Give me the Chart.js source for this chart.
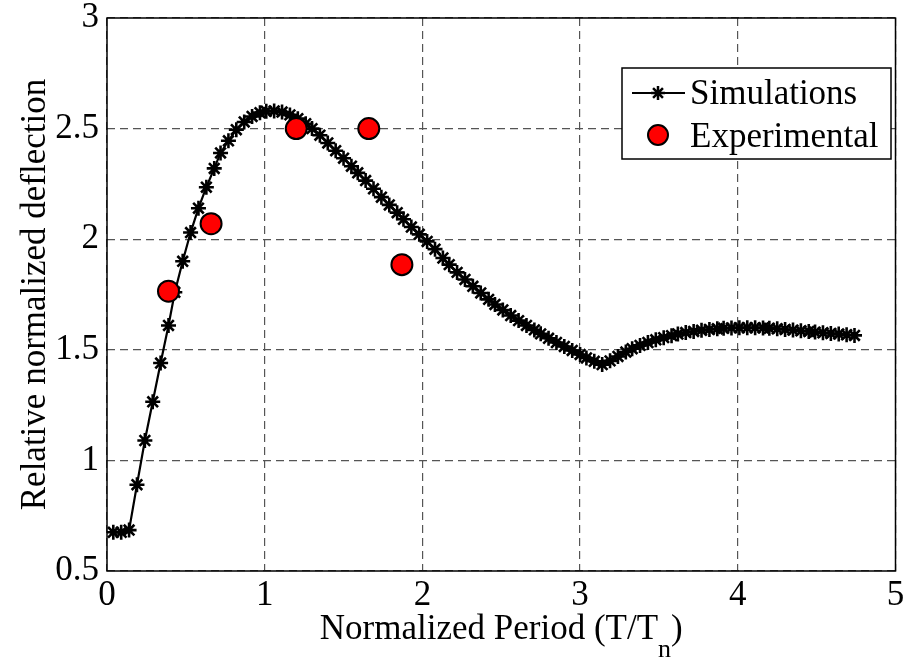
<!DOCTYPE html>
<html>
<head>
<meta charset="utf-8">
<script src="https://cdn.jsdelivr.net/npm/chart.js@4"></script>
<style>
	body { margin: 0; background: #fff; }
	#box { width: 908px; height: 662px; }
</style>
</head>
<body>
<div id="box"><canvas id="my_chart" width="908" height="662"></canvas></div>
<script>
// Simulations (T/Tn, relative normalized deflection)
const simX = [0.04, 0.09, 0.14, 0.19, 0.24, 0.29, 0.34, 0.39, 0.43, 0.48,
	0.53, 0.58, 0.63, 0.68, 0.72, 0.77, 0.82, 0.87, 0.92, 0.97,
	1.01, 1.06, 1.11, 1.16, 1.21, 1.26, 1.30, 1.35, 1.40, 1.45,
	1.50, 1.55, 1.59, 1.64, 1.69, 1.74, 1.79, 1.84, 1.88, 1.93,
	1.98, 2.03, 2.08, 2.13, 2.17, 2.22, 2.27, 2.32, 2.37, 2.42,
	2.46, 2.51, 2.56, 2.61, 2.66, 2.71, 2.75, 2.80, 2.85, 2.90,
	2.95, 3.00, 3.04, 3.09, 3.14, 3.19, 3.24, 3.29, 3.33, 3.38,
	3.43, 3.48, 3.53, 3.58, 3.62, 3.67, 3.72, 3.77, 3.82, 3.87,
	3.91, 3.96, 4.01, 4.06, 4.11, 4.16, 4.20, 4.25, 4.30, 4.35,
	4.40, 4.45, 4.49, 4.54, 4.59, 4.64, 4.69, 4.74]
const simY = [0.675, 0.675, 0.685, 0.89, 1.09, 1.265, 1.44, 1.61, 1.76, 1.90,
	2.03, 2.14, 2.235, 2.32, 2.39, 2.445, 2.495, 2.53, 2.555, 2.572,
	2.578, 2.58, 2.575, 2.562, 2.545, 2.522, 2.50, 2.47, 2.435, 2.40,
	2.366, 2.33, 2.30, 2.265, 2.228, 2.19, 2.155, 2.12, 2.09, 2.055,
	2.022, 1.99, 1.955, 1.915, 1.885, 1.85, 1.818, 1.787, 1.757, 1.728,
	1.705, 1.68, 1.655, 1.632, 1.61, 1.59, 1.572, 1.552, 1.533, 1.515,
	1.497, 1.479, 1.463, 1.448, 1.433, 1.45, 1.47, 1.49, 1.505, 1.52,
	1.533, 1.545, 1.555, 1.564, 1.571, 1.578, 1.583, 1.588, 1.592, 1.595,
	1.597, 1.599, 1.60, 1.60, 1.60, 1.599, 1.597, 1.595, 1.592, 1.589,
	1.586, 1.583, 1.58, 1.577, 1.574, 1.571, 1.568, 1.565]

// Experimental points
const expX = [0.39, 0.66, 1.20, 1.66, 1.87]
const expY = [1.765, 2.07, 2.50, 2.50, 1.885]

const seriesNames = ['Simulations', 'Experimental']
const xTitle = ['Normalized Period (T/T', 'n', ')']
const yTitle = 'Relative normalized deflection'

const FONT = "'Liberation Serif', 'Times New Roman', serif"

function toPoints(xs, ys) {
	return xs.map((x, i) => ({x: x, y: ys[i]}))
}

// Box, axis titles and legend, drawn like the MATLAB figure
const frame = {
	id: 'frame',
	afterDraw(chart) {
		const ctx = chart.ctx
		const a = chart.chartArea
		ctx.save()

		// Plot box
		ctx.strokeStyle = '#000'
		ctx.lineWidth = 1.5
		ctx.setLineDash([])
		ctx.strokeRect(a.left, a.top, a.right - a.left, a.bottom - a.top)

		ctx.fillStyle = '#000'

		// X title with subscript
		const big = '35px ' + FONT
		const small = '26px ' + FONT
		ctx.font = big
		const w1 = ctx.measureText(xTitle[0]).width
		const w3 = ctx.measureText(xTitle[2]).width
		ctx.font = small
		const w2 = ctx.measureText(xTitle[1]).width
		let x = (a.left + a.right) / 2 - (w1 + w2 + w3) / 2
		ctx.textAlign = 'left'
		ctx.textBaseline = 'alphabetic'
		ctx.font = big
		ctx.fillText(xTitle[0], x, 639)
		x += w1
		ctx.font = small
		ctx.fillText(xTitle[1], x, 657)
		x += w2
		ctx.font = big
		ctx.fillText(xTitle[2], x, 639)

		// Y title
		ctx.save()
		ctx.translate(36, (a.top + a.bottom) / 2)
		ctx.rotate(-Math.PI / 2)
		ctx.textAlign = 'center'
		ctx.textBaseline = 'middle'
		ctx.font = big
		ctx.fillText(yTitle, 0, 0)
		ctx.restore()

		// Legend
		ctx.fillStyle = '#fff'
		ctx.fillRect(622, 68, 269, 91)
		ctx.strokeStyle = '#000'
		ctx.lineWidth = 1.5
		ctx.strokeRect(622, 68, 269, 91)

		ctx.lineWidth = 2
		ctx.beginPath()
		ctx.moveTo(632, 93)
		ctx.lineTo(685, 93)
		ctx.stroke()
		// asterisk marker
		ctx.lineWidth = 2.5
		ctx.beginPath()
		for (let k = 0; k < 4; k++) {
			const ang = k * Math.PI / 4
			ctx.moveTo(658 - 7 * Math.cos(ang), 93 - 7 * Math.sin(ang))
			ctx.lineTo(658 + 7 * Math.cos(ang), 93 + 7 * Math.sin(ang))
		}
		ctx.stroke()

		ctx.lineWidth = 2
		ctx.beginPath()
		ctx.arc(658, 135, 10, 0, Math.PI * 2)
		ctx.fillStyle = '#ff0000'
		ctx.fill()
		ctx.stroke()

		ctx.fillStyle = '#000'
		ctx.font = big
		ctx.textAlign = 'left'
		ctx.textBaseline = 'alphabetic'
		ctx.fillText(seriesNames[0], 690, 104)
		ctx.fillText(seriesNames[1], 690, 147)

		ctx.restore()
	}
}

const tickFont = {family: FONT, size: 35}
const plainTick = v => String(Number(v.toFixed(2)))

const ctx = document.getElementById('my_chart')
const chart = new Chart(ctx, {
	type: 'scatter',
	data: {
		datasets: [{
			label: seriesNames[1],
			data: toPoints(expX, expY),
			pointStyle: 'circle',
			pointRadius: 10.5,
			pointBackgroundColor: '#ff0000',
			pointBorderColor: '#000',
			pointBorderWidth: 2,
			showLine: false,
			order: 0
		}, {
			label: seriesNames[0],
			data: toPoints(simX, simY),
			showLine: true,
			borderColor: '#000',
			borderWidth: 2.2,
			pointStyle: 'star',
			pointRadius: 7.5,
			pointBorderColor: '#000',
			pointBorderWidth: 2.6,
			pointBackgroundColor: '#000',
			tension: 0,
			order: 1
		}]
	},
	options: {
		responsive: false,
		animation: false,
		layout: {padding: {top: 18, right: 10, left: 0, bottom: 0}},
		plugins: {
			legend: {display: false},
			tooltip: {enabled: false}
		},
		scales: {
			x: {
				type: 'linear',
				min: 0,
				max: 5,
				ticks: {stepSize: 1, font: tickFont, color: '#000', padding: 4, maxRotation: 0, callback: plainTick},
				grid: {color: '#555', lineWidth: 1.2, drawTicks: false, borderDash: [8, 5]},
				border: {display: false, dash: [8, 5]},
				afterFit: s => { s.height = 91; s.paddingLeft = 0; s.paddingRight = 0 }
			},
			y: {
				type: 'linear',
				min: 0.5,
				max: 3,
				ticks: {stepSize: 0.5, font: tickFont, color: '#000', padding: 8, callback: plainTick},
				grid: {color: '#555', lineWidth: 1.2, drawTicks: false, borderDash: [8, 5]},
				border: {display: false, dash: [8, 5]},
				afterFit: s => { s.width = 107; s.paddingTop = 0; s.paddingBottom = 0 }
			}
		}
	},
	plugins: [frame]
})
</script>
</body>
</html>
